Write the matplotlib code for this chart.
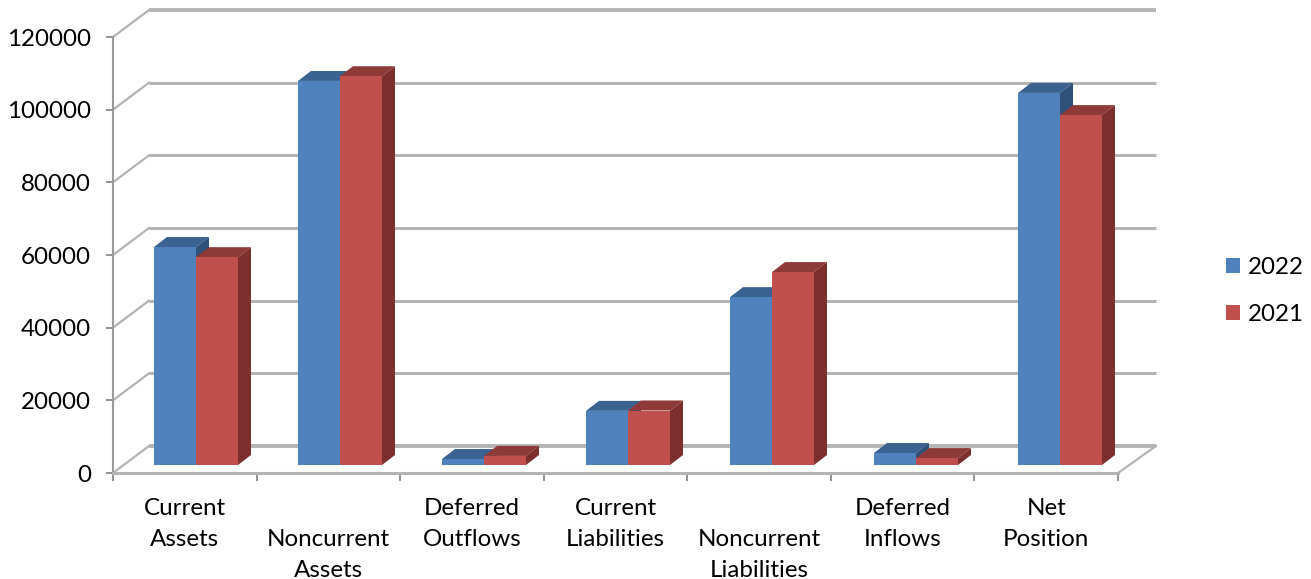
import matplotlib
matplotlib.use("Agg")
import matplotlib.pyplot as plt
from matplotlib.patches import Patch

categories = ["Current\nAssets", "\nNoncurrent\nAssets", "Deferred\nOutflows", "Current\nLiabilities",
              "\nNoncurrent\nLiabilities", "Deferred\nInflows", "Net\nPosition"]
values_2022 = [60000, 105700, 1650, 14900, 46200, 3300, 102400]
values_2021 = [57200, 107000, 2500, 15000, 53100, 1900, 96300]
y_ticks = [0, 20000, 40000, 60000, 80000, 100000, 120000]

W, H = 1311, 579
plt.rcParams['font.family'] = ['Lato', 'DejaVu Sans']
fig = plt.figure(figsize=(W / 100, H / 100), dpi=100)
L, R, T, B = 113, 1118, 37, 473
ax = fig.add_axes([L / W, 1 - B / H, (R - L) / W, (B - T) / H])
ax.set_xlim(0, len(categories))
ax.set_ylim(0, 120000)
ax.patch.set_visible(False)

px_x = len(categories) / (R - L)
px_y = 120000 / (B - T)
GRID = '#b4b4b4'
AX = '#9a9a9a'

# back wall gridlines and the slanted side-wall lines
dx, dy = 36 * px_x, 27 * px_y
end = len(categories) + 38 * px_x
for v in y_ticks:
    lw = 2.8 if v in (0, 120000) else 2.2
    ax.plot([dx, end], [v + dy, v + dy], color=GRID, lw=lw, clip_on=False,
            solid_capstyle='butt', zorder=1)
    ax.plot([0, dx], [v, v + dy], color=GRID, lw=1.6, clip_on=False, zorder=1)
ax.plot([len(categories), end], [0, dy], color=GRID, lw=1.6, clip_on=False, zorder=1)

BLUE = ('#4f81bd', '#3b6391', '#2f5079')
RED = ('#c0504d', '#8e3a38', '#7d2f2d')
bar_w = 42 * px_x
off = 41 * px_x
step = 144 * px_x
base = 8 * px_y
sx, sy = 13 * px_x, 10 * px_y


def bar3d(x0, value, cols, z):
    x1 = x0 + bar_w
    v = base + value
    ax.fill([x0, x0 + sx, x1 + sx, x1], [v, v + sy, v + sy, v], color=cols[1], lw=0, clip_on=False, zorder=z)
    ax.fill([x1, x1 + sx, x1 + sx, x1], [base, base + sy, v + sy, v], color=cols[2], lw=0, clip_on=False, zorder=z)
    ax.fill([x0, x1, x1, x0], [base, base, v, v], color=cols[0], lw=0, clip_on=False, zorder=z + 0.1)


for i, (a, b) in enumerate(zip(values_2022, values_2021)):
    bar3d(i * step + off, a, BLUE, 3 + i)
    bar3d(i * step + off + bar_w, b, RED, 3.2 + i)

for s in ('top', 'right'):
    ax.spines[s].set_visible(False)
ax.spines['left'].set_color(AX)
ax.spines['left'].set_linewidth(1.5)
ax.spines['bottom'].set_color(GRID)
ax.spines['bottom'].set_linewidth(2.2)

ax.set_yticks(y_ticks)
ax.set_yticklabels([str(v) for v in y_ticks])
ax.tick_params(axis='y', labelsize=17.4, length=5, width=1.2, color='#808080', pad=11, labelcolor='black')
ax.set_xticks(range(len(categories) + 1))
ax.set_xticklabels([])
ax.tick_params(axis='x', which='major', length=6, width=1.2, color='#808080')
ax.set_xticks([i + 0.5 for i in range(len(categories))], minor=True)
ax.set_xticklabels(categories, minor=True, fontsize=17.4, linespacing=1.6, va='top')
ax.tick_params(axis='x', which='minor', length=0, pad=18)

handles = [Patch(facecolor=BLUE[0], label='2022'), Patch(facecolor=RED[0], label='2021')]
fig.legend(handles=handles, loc='center left', bbox_to_anchor=(1204 / W, 1 - 291 / H), frameon=False,
           fontsize=17.4, handlelength=0.6, handleheight=0.6, handletextpad=0.33, labelspacing=1.1)

fig.savefig('out.png', dpi=100)
